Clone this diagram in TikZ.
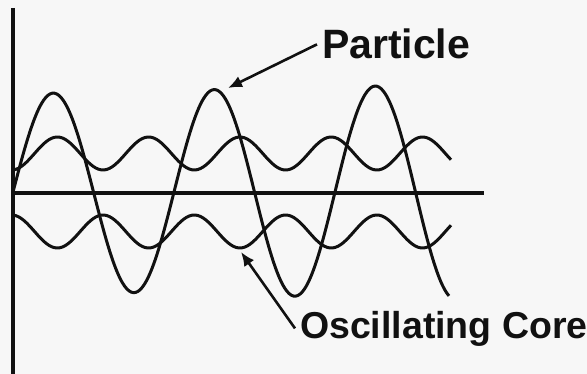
\documentclass[tikz,border=0pt]{standalone}
\usepackage{xcolor}
\usepackage{tikz}
\usepackage{fontspec}
\setmainfont{Liberation Sans}
\usetikzlibrary{arrows.meta,positioning}
\definecolor{scanpaper}{HTML}{F7F7F7}
\definecolor{scanink}{HTML}{111111}
\tikzstyle{arrow} = [-{Latex[length=14pt,width=12pt]}, line width=2.6pt, scanink]
\tikzstyle{wave} = [line width=3pt, scanink, line join=round]
\tikzstyle{axis} = [line width=3.2pt, scanink]
\tikzstyle{label} = [anchor=base west, inner sep=0pt, outer sep=5pt, text=scanink]

\begin{document}
\begin{tikzpicture}[x=1pt, y=-1pt]
\fill[scanpaper] (0,0) rectangle (587,374);
\useasboundingbox (0,0) rectangle (587,374);

% axes
\draw[axis] (13,8) -- (13,374);
\draw[axis] (13,193) -- (484,193);

% core, above and below the axis
\foreach \c/\s in {153.5/1,231.5/-1} {
  \draw[wave] plot[domain=13:451, samples=160, smooth] (\x, {\c+\s*16.5*cos((\x-11.7)/91.3*360)});
}
% particle
\draw[wave] plot[domain=13:449, samples=200, smooth] (\x, {192-(98+0.022*(\x-13))*sin((\x-13)/161*360)});

\node[label, font=\bfseries\fontsize{41}{41}\selectfont] (particle) at (317,59) {Particle};
\node[label, font=\bfseries\fontsize{37.5}{37.5}\selectfont] (core) at (295,338) {Oscillating Core};
\coordinate (ppeak) at (228,88);
\coordinate (ctrough) at (241,252);

\draw[arrow] (particle.west) -- (ppeak);
\draw[arrow] (core.west) -- (ctrough);
\end{tikzpicture}
\end{document}
